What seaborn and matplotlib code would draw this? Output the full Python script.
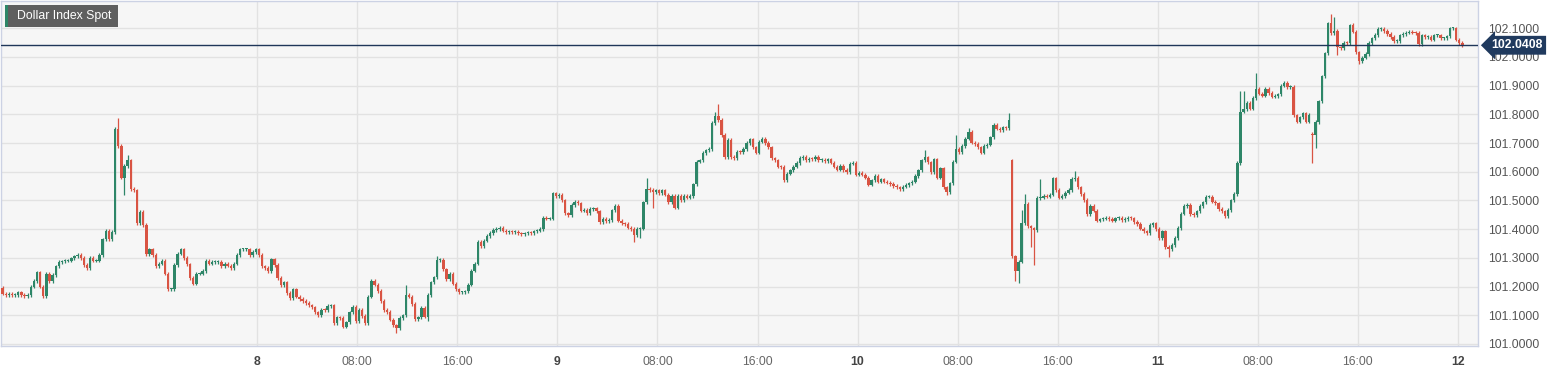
import numpy as np
import pandas as pd
import matplotlib
matplotlib.use("Agg")
import matplotlib.pyplot as plt
import matplotlib.transforms as mtransforms
from matplotlib.patches import Rectangle
import seaborn as sns

# 15-minute closes, one list per stretch of the chart
closes_7 = [101.175, 101.17, 101.175, 101.17, 101.17, 101.18, 101.17, 101.167, 101.17, 101.2,
            101.22, 101.25, 101.2, 101.167, 101.245, 101.22, 101.24, 101.27, 101.285, 101.288,
            101.29, 101.29, 101.298, 101.305, 101.31, 101.3, 101.275, 101.265, 101.3, 101.29,
            101.29, 101.31, 101.365, 101.395, 101.365, 101.39, 101.75, 101.69, 101.58, 101.62,
            101.64, 101.54, 101.535, 101.42, 101.46, 101.415, 101.313, 101.33, 101.31, 101.27,
            101.28, 101.29, 101.245, 101.19, 101.19, 101.275, 101.315, 101.33, 101.3, 101.277,
            101.23]
closes_8a = [101.21, 101.245, 101.245, 101.255, 101.29, 101.28, 101.285, 101.285, 101.285, 101.27,
             101.28, 101.273, 101.265, 101.28, 101.31, 101.33, 101.33, 101.33, 101.31, 101.32,
             101.33, 101.31, 101.27, 101.265, 101.255, 101.295, 101.275, 101.23, 101.205, 101.215,
             101.177, 101.16, 101.19, 101.165, 101.157, 101.15, 101.143, 101.135, 101.128, 101.11,
             101.1, 101.12, 101.118, 101.133, 101.135, 101.073, 101.093, 101.09, 101.06, 101.075,
             101.11, 101.13, 101.08, 101.118, 101.097, 101.073, 101.165, 101.22, 101.207]
closes_8b = [101.185, 101.15, 101.118, 101.112, 101.085, 101.065, 101.055, 101.09, 101.1, 101.17,
             101.165, 101.14, 101.087, 101.093, 101.127, 101.095, 101.17, 101.215, 101.232, 101.293,
             101.293, 101.26, 101.226, 101.245, 101.21, 101.19, 101.18, 101.18, 101.183, 101.207,
             101.256, 101.28, 101.355, 101.34, 101.36, 101.377, 101.386, 101.397, 101.4, 101.405,
             101.395, 101.39, 101.392, 101.39, 101.39, 101.385, 101.383, 101.385, 101.388, 101.387,
             101.392, 101.395, 101.4, 101.44, 101.437, 101.437, 101.525, 101.515, 101.52]
closes_9 = [101.5, 101.455, 101.448, 101.485, 101.495, 101.49, 101.465, 101.467, 101.455, 101.47,
            101.473, 101.462, 101.425, 101.435, 101.427, 101.432, 101.466, 101.482, 101.43, 101.42,
            101.418, 101.405, 101.4, 101.38, 101.4, 101.402, 101.493, 101.54, 101.537, 101.53,
            101.535, 101.525, 101.535, 101.52, 101.494, 101.515, 101.475, 101.515, 101.5, 101.515,
            101.51, 101.515, 101.556, 101.635, 101.64, 101.665, 101.675, 101.68, 101.77, 101.795,
            101.78, 101.728, 101.65, 101.71, 101.652, 101.648, 101.67, 101.668, 101.68]
closes_9b = [101.7, 101.713, 101.685, 101.667, 101.705, 101.715, 101.70, 101.685, 101.647, 101.64,
             101.618, 101.617, 101.57, 101.594, 101.605, 101.618, 101.63, 101.648, 101.653, 101.64,
             101.645, 101.643, 101.652, 101.64, 101.641, 101.638, 101.643, 101.632, 101.618, 101.607,
             101.62, 101.606, 101.6, 101.628, 101.632, 101.59, 101.595, 101.59, 101.58, 101.555,
             101.57, 101.585, 101.566, 101.574, 101.566, 101.562, 101.557, 101.55, 101.546, 101.54,
             101.548, 101.554, 101.56, 101.566, 101.585, 101.605, 101.64, 101.65, 101.633, 101.6]
closes_10 = [101.643, 101.58, 101.612, 101.546, 101.53, 101.56, 101.635, 101.68, 101.668, 101.69,
             101.715, 101.74, 101.702, 101.697, 101.685, 101.667, 101.69, 101.695, 101.72, 101.764,
             101.75, 101.745, 101.755, 101.753, 101.78, 101.305, 101.253, 101.287, 101.42, 101.488,
             101.41, 101.403, 101.397, 101.508, 101.51, 101.515, 101.513, 101.52, 101.577, 101.537,
             101.51, 101.515, 101.527, 101.537, 101.575, 101.578, 101.546, 101.522, 101.502, 101.453,
             101.48, 101.465, 101.43, 101.434, 101.437, 101.44, 101.436, 101.43, 101.438]
closes_11 = [101.44, 101.432, 101.435, 101.44, 101.438, 101.425, 101.418, 101.402, 101.392, 101.387,
             101.414, 101.42, 101.4, 101.37, 101.392, 101.338, 101.331, 101.345, 101.369, 101.404,
             101.454, 101.48, 101.485, 101.453, 101.45, 101.462, 101.48, 101.493, 101.513, 101.513,
             101.496, 101.49, 101.47, 101.462, 101.445, 101.467, 101.5, 101.523, 101.63, 101.81,
             101.818, 101.84, 101.82, 101.857, 101.89, 101.872, 101.865, 101.888, 101.875, 101.862,
             101.864, 101.87, 101.9, 101.91, 101.895, 101.895, 101.797, 101.775, 101.79]
closes_11b = [101.804, 101.775, 101.798, 101.727, 101.773, 101.845, 101.932, 102.013, 102.117, 102.083,
              102.09, 102.033, 102.03, 102.048, 102.047, 102.11, 102.088, 102.016, 101.986, 101.998,
              102.01, 102.048, 102.065, 102.077, 102.097, 102.097, 102.09, 102.08, 102.07, 102.055,
              102.055, 102.075, 102.08, 102.085, 102.087, 102.085, 102.083, 102.045, 102.075, 102.07,
              102.07, 102.06, 102.075, 102.075, 102.065, 102.065, 102.072, 102.1, 102.1, 102.06,
              102.048, 102.041]

# opens that gap away from the previous close (candle number -> open)
open_gaps = {0: 101.195, 323: 101.64, 419: 101.733}
# wicks that stand out (candle number -> extreme)
wick_highs = {37: 101.786, 40: 101.66, 129: 101.207, 139: 101.305, 206: 101.577,
              228: 101.81, 229: 101.835, 295: 101.676, 305: 101.728, 309: 101.751,
              322: 101.806, 326: 101.467, 327: 101.523, 332: 101.574, 343: 101.603,
              396: 101.883, 397: 101.883, 401: 101.943, 425: 102.149, 426: 102.14,
              432: 102.117}
wick_lows = {39: 101.52, 126: 101.04, 136: 101.079, 202: 101.357, 204: 101.37,
             208: 101.475, 232: 101.645, 299: 101.574, 302: 101.519, 324: 101.218,
             325: 101.214, 329: 101.339, 330: 101.276, 373: 101.304, 419: 101.63,
             420: 101.682, 427: 102.007, 434: 101.975}

last_price = 102.0408
start_hour = -20.5          # 7th, 03:30 (hours from the 8th, 00:00)
tick_hours = list(range(0, 97, 8))
tick_labels = ["8", "08:00", "16:00", "9", "08:00", "16:00", "10", "08:00", "16:00",
               "11", "08:00", "16:00", "12"]
y_ticks = [101.0, 101.1, 101.2, 101.3, 101.4, 101.5, 101.6, 101.7, 101.8, 101.9, 102.0, 102.1]

close = np.array(closes_7 + closes_8a + closes_8b + closes_9 + closes_9b
                 + closes_10 + closes_11 + closes_11b)
n = len(close)
df = pd.DataFrame({"close": close})
df["open"] = df["close"].shift(1)
for k, v in open_gaps.items():
    df.loc[k, "open"] = v
df["high"] = df[["open", "close"]].max(axis=1) + 0.006
df["low"] = df[["open", "close"]].min(axis=1) - 0.006
for k, v in wick_highs.items():
    df.loc[k, "high"] = v
for k, v in wick_lows.items():
    df.loc[k, "low"] = v
df["t"] = start_hour + 0.125 + 0.25 * np.arange(n)
df["up"] = df["close"] >= df["open"]

sns.set_theme(style="whitegrid")
plt.rcParams["font.family"] = ["Liberation Sans", "DejaVu Sans"]

GREEN = "#2e8668"
RED = "#d95443"

fig = plt.figure(figsize=(15.55, 3.72), dpi=100)
ax = fig.add_axes([1 / 1555, 1 - 346 / 372, 1477 / 1555, 345 / 372])
ax.set_facecolor("#f6f6f6")
fig.patch.set_facecolor("white")

colors = np.where(df["up"], GREEN, RED)
ax.vlines(df["t"], df["low"], df["high"], colors=colors, lw=0.9, zorder=3)
body_lo = df[["open", "close"]].min(axis=1)
body_h = (df["close"] - df["open"]).abs().clip(lower=0.0035)
ax.bar(df["t"], body_h, bottom=body_lo, width=0.19, color=colors, lw=0, zorder=4)

ax.axhline(last_price, color="#1f3659", lw=1.0, zorder=5)

ax.set_xlim(-20.5, 97.62)
ax.set_ylim(100.993, 102.195)
ax.set_xticks(tick_hours)
ax.set_xticklabels(tick_labels)
for lab in ax.get_xticklabels():
    if ":" not in lab.get_text():
        lab.set_fontweight("bold")
        lab.set_color("#444444")
    else:
        lab.set_color("#666666")
ax.set_yticks(y_ticks)
ax.set_yticklabels([f"{v:.4f}" for v in y_ticks])
ax.yaxis.tick_right()
ax.tick_params(axis="y", length=0, pad=7, labelsize=8.8, labelcolor="#555555")
ax.tick_params(axis="x", length=0, pad=7, labelsize=8.8)
ax.grid(True, color="#e2e2e2", lw=1.0)
ax.set_axisbelow(True)
for side, sp in ax.spines.items():
    sp.set_color("#ccd2e4")
    sp.set_linewidth(1.0)
    sp.set_visible(True)

trans = mtransforms.blended_transform_factory(ax.transAxes, ax.transData)
ax.text(1.009, last_price, f"{last_price:.4f}", transform=trans, ha="left", va="center",
        color="white", fontsize=8.8, fontweight="bold", zorder=6, clip_on=False,
        bbox=dict(boxstyle="larrow,pad=0.28", fc="#203a5e", ec="none"))

# title badge in the top-left corner
fig.patches.append(Rectangle((5 / 1555, 1 - 27 / 372), 113 / 1555, 22 / 372,
                             transform=fig.transFigure, fc="#5f5f5f", ec="none", zorder=10))
fig.patches.append(Rectangle((5 / 1555, 1 - 27 / 372), 2.5 / 1555, 22 / 372,
                             transform=fig.transFigure, fc="#2e8668", ec="none", zorder=11))
fig.text(17 / 1555, 1 - 16 / 372, "Dollar Index Spot", color="white", fontsize=8.8,
         va="center", ha="left", zorder=12)

fig.savefig("out.png", dpi=100)
